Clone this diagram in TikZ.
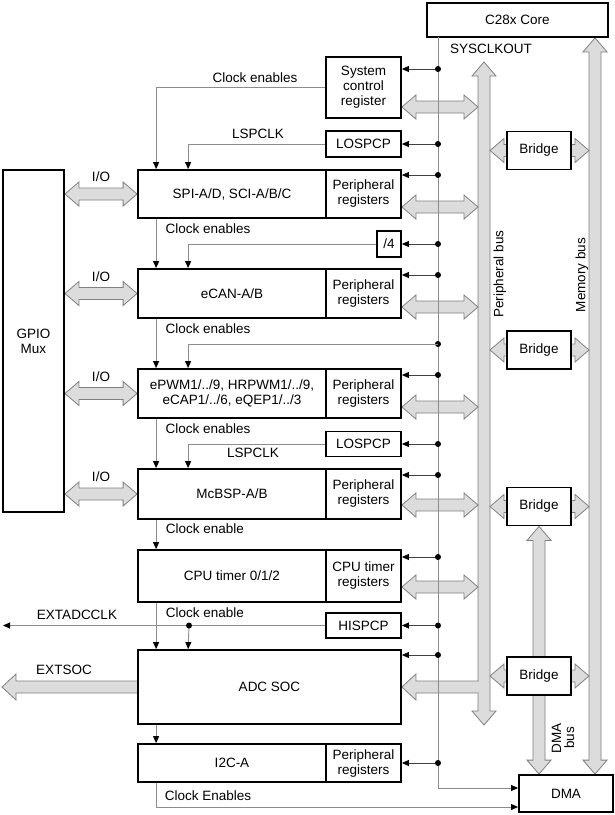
\documentclass[tikz,border=0pt]{standalone}
\usepackage{fontspec}
\setmainfont{Liberation Sans}
\usepackage{xcolor}
\usepackage{tikz}
\usetikzlibrary{calc, arrows.meta, backgrounds}
\definecolor{BusFill}{HTML}{DCDCDC}
\definecolor{BusLine}{HTML}{808080}
\definecolor{WireGray}{HTML}{8C8C8C}

\begin{document}
\begin{tikzpicture}[x=1pt, y=-1pt, font=\fontsize{13.5}{15}\selectfont,
        blk/.style={draw, line width=1.8pt, fill=white, inner sep=0pt, align=center},
        wire/.style={draw=WireGray, line width=0.9pt, -{Triangle[length=7pt, width=6pt, color=black]}},
        tap/.style={draw=black!75, line width=0.7pt, -{Triangle[length=7pt, width=6pt, color=black]}},
        bus/.style={draw=BusLine, fill=BusFill, line width=0.8pt, to path={
            -- ($(\tikztostart)!14pt!(\tikztotarget)!12pt!90:(\tikztotarget)$)
            -- ($(\tikztostart)!14pt!(\tikztotarget)!6pt!90:(\tikztotarget)$)
            -- ($(\tikztotarget)!14pt!(\tikztostart)!6pt!-90:(\tikztostart)$)
            -- ($(\tikztotarget)!14pt!(\tikztostart)!12pt!-90:(\tikztostart)$)
            -- (\tikztotarget)
            -- ($(\tikztotarget)!14pt!(\tikztostart)!12pt!90:(\tikztostart)$)
            -- ($(\tikztotarget)!14pt!(\tikztostart)!6pt!90:(\tikztostart)$)
            -- ($(\tikztostart)!14pt!(\tikztotarget)!6pt!-90:(\tikztotarget)$)
            -- ($(\tikztostart)!14pt!(\tikztotarget)!12pt!-90:(\tikztotarget)$)
            -- cycle}},
        sbus/.style={draw=BusLine, fill=BusFill, line width=0.8pt, to path={
            ($(\tikztostart)!6pt!90:(\tikztotarget)$)
            -- ($(\tikztotarget)!14pt!(\tikztostart)!6pt!-90:(\tikztostart)$)
            -- ($(\tikztotarget)!14pt!(\tikztostart)!13pt!-90:(\tikztostart)$)
            -- (\tikztotarget)
            -- ($(\tikztotarget)!14pt!(\tikztostart)!13pt!90:(\tikztostart)$)
            -- ($(\tikztotarget)!14pt!(\tikztostart)!6pt!90:(\tikztostart)$)
            -- ($(\tikztostart)!6pt!-90:(\tikztotarget)$)}}]
        \useasboundingbox (0,0) rectangle (615,815);

        % blocks
        \node[blk, minimum width=181pt, minimum height=34pt] (core) at (517.5,20) {C28x Core};
        \node[blk, minimum width=75pt, minimum height=61pt] (sysreg) at (363.5,87.5) {System\\control\\register};
        \node[blk, minimum width=75pt, minimum height=26pt] (lospcpA) at (363.5,144) {LOSPCP};
        \node[blk, minimum width=188pt, minimum height=48pt] (spi) at (232,194) {SPI-A/D, SCI-A/B/C};
        \node[blk, minimum width=75pt, minimum height=48pt] (spireg) at (363.5,194) {Peripheral\\registers};
        \node[blk, minimum width=24pt, minimum height=26pt] (div4) at (389,244) {/4};
        \node[blk, minimum width=188pt, minimum height=49pt] (ecan) at (232,293.5) {eCAN-A/B};
        \node[blk, minimum width=75pt, minimum height=49pt] (ecanreg) at (363.5,293.5) {Peripheral\\registers};
        \node[blk, minimum width=188pt, minimum height=49pt] (epwm) at (232,393.5) {ePWM1/../9, HRPWM1/../9,\\eCAP1/../6, eQEP1/../3};
        \node[blk, minimum width=75pt, minimum height=49pt] (epwmreg) at (363.5,393.5) {Peripheral\\registers};
        \node[blk, minimum width=75pt, minimum height=25pt] (lospcpB) at (363.5,444) {LOSPCP};
        \node[blk, minimum width=188pt, minimum height=50pt] (mcbsp) at (232,494) {McBSP-A/B};
        \node[blk, minimum width=75pt, minimum height=50pt] (mcbspreg) at (363.5,494) {Peripheral\\registers};
        \node[blk, minimum width=188pt, minimum height=52pt] (cpu) at (232,576) {CPU timer 0/1/2};
        \node[blk, minimum width=75pt, minimum height=52pt] (cpureg) at (363.5,576) {CPU timer\\registers};
        \node[blk, minimum width=75pt, minimum height=25pt] (hispcp) at (363.5,625.5) {HISPCP};
        \node[blk, minimum width=263pt, minimum height=74pt] (adc) at (269.5,687) {ADC SOC};
        \node[blk, minimum width=188pt, minimum height=38pt] (i2c) at (232,763) {I2C-A};
        \node[blk, minimum width=75pt, minimum height=38pt] (i2creg) at (363.5,763) {Peripheral\\registers};
        \node[blk, minimum width=61pt, minimum height=342pt] (gpio) at (33.5,341) {GPIO\\Mux};
        \node[blk, minimum width=64pt, minimum height=38pt] (bridge1) at (539,150.5) {Bridge};
        \node[blk, minimum width=64pt, minimum height=38pt] (bridge2) at (539,350) {Bridge};
        \node[blk, minimum width=64pt, minimum height=38pt] (bridge3) at (539,506.5) {Bridge};
        \node[blk, minimum width=64pt, minimum height=38pt] (bridge4) at (539,676) {Bridge};
        \node[blk, minimum width=94pt, minimum height=37pt] (dma) at (566,793.5) {DMA};

        \coordinate (clk) at (438,37);
        \coordinate (pbl) at (478,0);
        \coordinate (pbr) at (490,0);
        \coordinate (mbl) at (589,0);
        \coordinate (pbtop) at (484,62);
        \coordinate (pbbot) at (484,725);
        \coordinate (extadc) at (3,625.5);
        \coordinate (extsoc) at (2,687);

        % buses
        \begin{scope}[on background layer]
            \draw[bus] (pbbot) to (pbtop);
            \draw[bus] (dma.north -| 595,0) to (core.south -| 595,0);
            \draw[bus] (bridge3.south) to (dma.north -| bridge3.south);
            \draw[bus] (pbr |- bridge1.west) to (mbl |- bridge1.east);
            \draw[bus] (pbr |- bridge2.west) to (mbl |- bridge2.east);
            \draw[bus] (pbr |- bridge3.west) to (mbl |- bridge3.east);
            \draw[bus] (pbr |- bridge4.west) to (mbl |- bridge4.east);
            \draw[bus] (sysreg.east |- 0,107) to (pbl |- 0,107);
            \draw[bus] (spireg.east |- 0,207) to (pbl |- 0,207);
            \draw[bus] (ecanreg.east |- 0,307) to (pbl |- 0,307);
            \draw[bus] (epwmreg.east |- 0,407) to (pbl |- 0,407);
            \draw[bus] (mcbspreg.east |- 0,505) to (pbl |- 0,505);
            \draw[bus] (cpureg.east |- 0,587) to (pbl |- 0,587);
            \draw[bus] (gpio.east |- spi.west) to (spi.west);
            \draw[bus] (gpio.east |- ecan.west) to (ecan.west);
            \draw[bus] (gpio.east |- epwm.west) to (epwm.west);
            \draw[bus] (gpio.east |- mcbsp.west) to (mcbsp.west);
            \draw[sbus] (pbl |- adc.east) to (adc.east);
            \fill[BusFill] (477.2,681.6) rectangle (479.6,692.4);
            \draw[sbus] (adc.west) to (extsoc);
        \end{scope}

        % clock line and taps
        \draw[wire] (clk) |- (dma.west |- 0,788);
        \draw[tap] (clk |- 0,69) -- (sysreg.east |- 0,69);
        \draw[tap] (clk |- lospcpA.east) -- (lospcpA.east);
        \draw[tap] (clk |- 0,175) -- (spireg.east |- 0,175);
        \draw[tap] (clk |- div4.east) -- (div4.east);
        \draw[tap] (clk |- 0,275) -- (ecanreg.east |- 0,275);
        \draw[tap] (clk |- 0,375) -- (epwmreg.east |- 0,375);
        \draw[tap] (clk |- lospcpB.east) -- (lospcpB.east);
        \draw[tap] (clk |- 0,475) -- (mcbspreg.east |- 0,475);
        \draw[tap] (clk |- 0,557) -- (cpureg.east |- 0,557);
        \draw[tap] (clk |- hispcp.east) -- (hispcp.east);
        \draw[tap] (clk |- 0,655) -- (adc.east |- 0,655);
        \draw[tap] (clk |- i2creg.east) -- (i2creg.east);
        \foreach \y in {69,144,175,244,275,344,375,444,475,557,625.5,655,763}
            \fill (clk |- 0,\y) circle (3pt);

        % clock enables
        \draw[wire] (sysreg.west) -| ($(spi.north west)+(19,0)$);
        \draw[wire] (lospcpA.west) -| ($(spi.north west)+(51,0)$);
        \draw[wire] ($(spi.south west)+(19,0)$) -- ($(ecan.north west)+(19,0)$);
        \draw[wire] (div4.west) -| ($(ecan.north west)+(51,0)$);
        \draw[wire] ($(ecan.south west)+(19,0)$) -- ($(epwm.north west)+(19,0)$);
        \draw[wire] (clk |- 0,344) -| ($(epwm.north west)+(51,0)$);
        \draw[wire] ($(epwm.south west)+(19,0)$) -- ($(mcbsp.north west)+(19,0)$);
        \draw[wire] (lospcpB.west) -| ($(mcbsp.north west)+(51,0)$);
        \draw[wire] ($(mcbsp.south west)+(19,0)$) -- ($(cpu.north west)+(19,0)$);
        \draw[wire] ($(cpu.south west)+(19,0)$) -- ($(adc.north west)+(19,0)$);
        \draw[wire] (hispcp.west) -- (extadc);
        \draw[wire] (hispcp.west -| 189,0) -- ($(adc.north west)+(51,0)$);
        \fill (hispcp.west -| 189,0) circle (3pt);
        \draw[wire] ($(adc.south west)+(19,0)$) -- ($(i2c.north west)+(19,0)$);
        \draw[wire] ($(i2c.south west)+(19,0)$) |- (dma.west |- 0,807);

        % labels
        \node (sysclk) at (491,49) {SYSCLKOUT};
        \node (ceA) at (255,78) {Clock enables};
        \node (lspA) at (258,134) {LSPCLK};
        \node (ceB) at (208,229) {Clock enables};
        \node (ceC) at (208,329) {Clock enables};
        \node (ceD) at (208,429) {Clock enables};
        \node (lspB) at (253,453) {LSPCLK};
        \node (ceE) at (205,529) {Clock enable};
        \node (ceF) at (205,613) {Clock enable};
        \node (ceG) at (208,796) {Clock Enables};
        \node (extadclbl) at (77,615) {EXTADCCLK};
        \node (extsoclbl) at (64,670) {EXTSOC};
        \node (ioA) at (101,177) {I/O};
        \node (ioB) at (101,277) {I/O};
        \node (ioC) at (101,377) {I/O};
        \node (ioD) at (101,477) {I/O};
        \node[rotate=90] (pbuslbl) at (500,274) {Peripheral bus};
        \node[rotate=90] (mbuslbl) at (582,275) {Memory bus};
        \node[rotate=90, align=center, font=\fontsize{13.5}{13}\selectfont] (dbuslbl) at (563,738) {DMA\\bus};
\end{tikzpicture}
\end{document}
